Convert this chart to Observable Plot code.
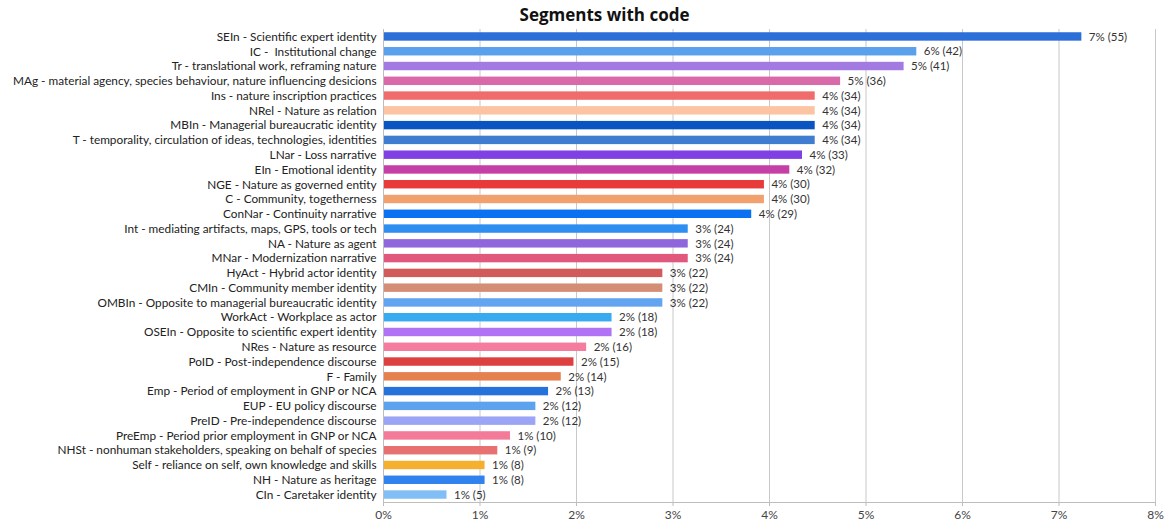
<!DOCTYPE html>
<html>
<head>
<meta charset="utf-8">
<script src="https://cdn.jsdelivr.net/npm/d3@7"></script>
<script src="https://cdn.jsdelivr.net/npm/@observablehq/plot@0.6"></script>
<style>
  html, body { margin: 0; padding: 0; background: #fff; }
  body { width: 1169px; height: 522px; overflow: hidden; font-family: Lato, "Open Sans", sans-serif; }
  #title { height: 28px; line-height: 30px; padding-left: 40px; text-align: center; font-weight: bold; font-size: 17px; color: #111; font-family: "Open Sans", sans-serif; }
  #chart svg { display: block; }
</style>
</head>
<body>
<div id="title">Segments with code</div>
<div id="chart"></div>
<script>
// Code labels, in display order (largest first)
const codes = [
  "SEIn - Scientific expert identity",
  "IC -  Institutional change",
  "Tr - translational work, reframing nature",
  "MAg - material agency, species behaviour, nature influencing desicions",
  "Ins - nature inscription practices",
  "NRel - Nature as relation",
  "MBIn - Managerial bureaucratic identity",
  "T - temporality, circulation of ideas, technologies, identities",
  "LNar - Loss narrative",
  "EIn - Emotional identity",
  "NGE - Nature as governed entity",
  "C - Community, togetherness",
  "ConNar - Continuity narrative",
  "Int - mediating artifacts, maps, GPS, tools or tech",
  "NA - Nature as agent",
  "MNar - Modernization narrative",
  "HyAct - Hybrid actor identity",
  "CMIn - Community member identity",
  "OMBIn - Opposite to managerial bureaucratic identity",
  "WorkAct - Workplace as actor",
  "OSEIn - Opposite to scientific expert identity",
  "NRes - Nature as resource",
  "PoID - Post-independence discourse",
  "F - Family",
  "Emp - Period of employment in GNP or NCA",
  "EUP - EU policy discourse",
  "PreID - Pre-independence discourse",
  "PreEmp - Period prior employment in GNP or NCA",
  "NHSt - nonhuman stakeholders, speaking on behalf of species",
  "Self - reliance on self, own knowledge and skills",
  "NH - Nature as heritage",
  "CIn - Caretaker identity"
];

// Number of coded segments per code
const counts = [55, 42, 41, 36, 34, 34, 34, 34, 33, 32, 30, 30, 29, 24, 24, 24,
                22, 22, 22, 18, 18, 16, 15, 14, 13, 12, 12, 10, 9, 8, 8, 5];

// Bar colour per code
const colors = [
  "#2d6fd8", "#5aa0ea", "#a27ae2", "#d96aaa", "#f06c6c", "#fcc4a2", "#0a54c2", "#3f7dd0",
  "#7f40e4", "#c63fa6", "#e83a3a", "#f2a06e", "#0a72f2", "#2f8ef2", "#9066dc", "#e0587e",
  "#d25a5a", "#d48e76", "#62a4ef", "#38aaf0", "#b272f6", "#f47c9e", "#dc4040", "#e4814e",
  "#2472da", "#5ca2ec", "#9ca4f6", "#f47a9a", "#e87070", "#f6b030", "#3082ee", "#82bef6"
];

// Axis tick values (shares)
const xTicks = [0, 0.01, 0.02, 0.03, 0.04, 0.05, 0.06, 0.07, 0.08];

const total = d3.sum(counts);
const data = codes.map((code, i) => ({
  code,
  count: counts[i],
  share: counts[i] / total,
  color: colors[i]
}));

const font = "Lato, 'Open Sans', sans-serif";
const fs = 11.8;

const chart = Plot.plot({
  width: 1169,
  height: 494,
  marginTop: 1,
  marginBottom: 20,
  marginLeft: 383,
  marginRight: 14,
  style: { fontFamily: font, fontSize: fs + "px", color: "#333", background: "#fff" },
  x: { domain: [0, 0.08], label: null },
  y: { domain: codes, label: null, paddingInner: 0.43, paddingOuter: 0.22, round: false },
  marks: [
    Plot.gridX(xTicks, { stroke: "#c8c8c8", strokeOpacity: 1, strokeWidth: 1 }),
    Plot.barX(data, { x: "share", y: "code", fill: d => d.color }),
    Plot.text(data, {
      x: "share", y: "code",
      text: d => `${Math.round(d.share * 100)}% (${d.count})`,
      textAnchor: "start", dx: 7, fill: "#333", fontSize: 11.5
    }),
    Plot.ruleX([0], { stroke: "#bdbdbd" }),
    Plot.frame({ anchor: "bottom", stroke: "#bdbdbd" }),
    Plot.axisX({
      ticks: xTicks, tickFormat: d => `${Math.round(d * 100)}%`,
      tickSize: 4, stroke: "#bdbdbd", fill: "#444", tickPadding: 4, fontSize: 12, label: null
    }),
    Plot.axisY({ tickSize: 0, tickPadding: 7, fill: "#222", fontSize: fs, label: null })
  ]
});

document.getElementById("chart").appendChild(chart);
</script>
</body>
</html>
